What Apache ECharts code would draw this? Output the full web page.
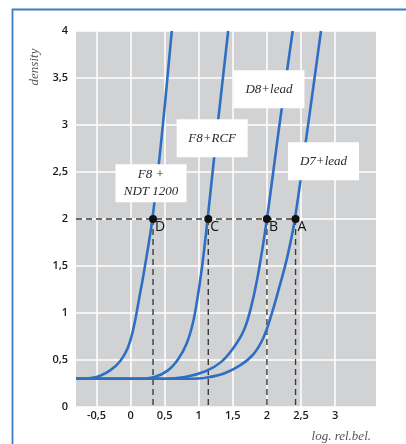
<!DOCTYPE html>
<html>
<head>
<meta charset="utf-8">
<script src="https://cdn.jsdelivr.net/npm/echarts@6/dist/echarts.min.js"></script>
<style>html,body{margin:0;padding:0;background:#fff;}#c{width:406px;height:444px;}</style>
</head>
<body>
<div id="c"></div>
<script>
// ---- data ----
var xTicks = [-0.5, 0, 0.5, 1, 1.5, 2, 2.5, 3];
var yTicks = [0, 0.5, 1, 1.5, 2, 2.5, 3, 3.5, 4];

var curve1X = [-0.8, -0.5, -0.3, -0.15, -0.04, 0.05, 0.125, 0.2, 0.32, 0.46, 0.605];
var curve1Y = [0.30, 0.32, 0.39, 0.49, 0.63, 0.86, 1.15, 1.45, 2.0, 2.9, 4.0];

var curve2X = [-0.8, 0.1, 0.35, 0.55, 0.7, 0.82, 0.91, 0.98, 1.05, 1.13, 1.27, 1.432];
var curve2Y = [0.30, 0.30, 0.32, 0.39, 0.51, 0.67, 0.88, 1.15, 1.5, 2.0, 2.95, 4.0];

var curve3X = [-0.8, 0.4, 0.8, 1.1, 1.33, 1.52, 1.67, 1.78, 1.88, 2.0, 2.18, 2.378];
var curve3Y = [0.30, 0.30, 0.32, 0.38, 0.48, 0.64, 0.83, 1.1, 1.45, 2.0, 2.98, 4.0];

var curve4X = [-0.8, 0.9, 1.3, 1.6, 1.8, 1.95, 2.07, 2.18, 2.3, 2.41, 2.6, 2.793];
var curve4Y = [0.30, 0.30, 0.34, 0.44, 0.56, 0.74, 0.99, 1.27, 1.6, 2.0, 2.98, 4.0];

var pointNames = ['D', 'C', 'B', 'A'];
var pointX = [0.33, 1.14, 2.0, 2.42];
var pointY = [2, 2, 2, 2];

var labelTexts = ['F8 +\nNDT 1200', 'F8+RCF', 'D8+lead', 'D7+lead'];
var labelX = [0.30, 1.197, 2.03, 2.83];
var labelY = [2.38, 2.86, 3.38, 2.615];

var xMin = -0.8, xMax = 3.6;
// ----------------

function zip(xs, ys) { return xs.map(function (x, i) { return [x, ys[i]]; }); }
function fmt(v) { return String(v).replace('.', ','); }

var blue = '#2f6fc1';
var curveStyle = { color: blue, width: 2.6 };
function curve(name, xs, ys) {
  return {
    name: name, type: 'line', data: zip(xs, ys), showSymbol: false, symbol: 'none',
    smooth: 0.4, lineStyle: curveStyle, z: 3, silent: true
  };
}
var dashStyle = { color: '#3a3a3a', width: 1.4, type: [6, 4] };

var series = [
  curve('F8 + NDT 1200', curve1X, curve1Y),
  curve('F8+RCF', curve2X, curve2Y),
  curve('D8+lead', curve3X, curve3Y),
  curve('D7+lead', curve4X, curve4Y),
  {
    type: 'line', data: [[xMin, pointY[0]], [pointX[3], pointY[3]]], symbol: 'none',
    lineStyle: dashStyle, z: 2, silent: true
  }
];
pointX.forEach(function (x, i) {
  series.push({
    type: 'line', data: [[x, pointY[i]], [x, 0]], symbol: 'none',
    lineStyle: dashStyle, z: 2, silent: true
  });
});
series.push({
  type: 'scatter', symbol: 'circle', symbolSize: 8, z: 6, silent: true,
  itemStyle: { color: '#111', opacity: 1 },
  data: pointX.map(function (x, i) { return { value: [x, pointY[i]], name: pointNames[i] }; }),
  label: {
    show: true, formatter: '{b}', position: [6, 5], align: 'left', verticalAlign: 'top',
    fontFamily: 'Open Sans', fontSize: 14, color: '#111'
  }
});
series.push({
  type: 'scatter', symbol: 'rect', symbolSize: 1, z: 10, silent: true,
  itemStyle: { color: 'rgba(0,0,0,0)', opacity: 1 },
  data: labelX.map(function (x, i) {
    var two = labelTexts[i].indexOf('\n') >= 0;
    return {
      value: [x, labelY[i]], name: labelTexts[i],
      label: two ? { lineHeight: 17, padding: [2, 0, 2, 0] } : { lineHeight: 38, padding: 0 }
    };
  }),
  label: {
    show: true, formatter: '{b}', position: 'inside', align: 'center', verticalAlign: 'middle',
    width: 71, backgroundColor: '#ffffff',
    fontFamily: 'Liberation Serif', fontStyle: 'italic', fontSize: 13, color: '#2a2a2a'
  }
});

var chart = echarts.init(document.getElementById('c'), null, { renderer: 'canvas' });
chart.setOption({
  animation: false,
  backgroundColor: '#ffffff',
  grid: {
    left: 76, right: 30, top: 31, bottom: 37, show: true,
    backgroundColor: '#d1d2d4', borderWidth: 0
  },
  xAxis: {
    type: 'value', min: xMin, max: xMax,
    axisLine: { show: false },
    axisTick: { show: false, customValues: xTicks },
    axisLabel: {
      customValues: xTicks, formatter: fmt, margin: 3,
      fontFamily: 'Open Sans', fontWeight: 600, fontSize: 11, color: '#1a1a1a'
    },
    splitLine: { show: true, lineStyle: { color: '#ffffff', width: 1.5 } }
  },
  yAxis: {
    type: 'value', min: yTicks[0], max: yTicks[yTicks.length - 1], interval: 0.5,
    axisLine: { show: false }, axisTick: { show: false },
    axisLabel: {
      formatter: fmt, margin: 8, padding: [0, 0, 7, 0],
      fontFamily: 'Open Sans', fontWeight: 600, fontSize: 11, color: '#1a1a1a'
    },
    splitLine: { show: true, lineStyle: { color: '#ffffff', width: 1.5 } }
  },
  graphic: [
    { type: 'polyline', shape: { points: [[12.5, 444], [12.5, 9.5], [406, 9.5]] },
      style: { stroke: '#3f7cc6', lineWidth: 1.8, fill: null }, silent: true },
    { type: 'text', x: 35, y: 67, rotation: Math.PI / 2,
      style: { text: 'density', fontFamily: 'Liberation Serif', fontStyle: 'italic', fontSize: 13,
               fill: '#555', align: 'center', verticalAlign: 'middle' } },
    { type: 'text', x: 371, y: 437,
      style: { text: 'log. rel.bel.', fontFamily: 'Liberation Serif', fontStyle: 'italic', fontSize: 13,
               fill: '#555', align: 'right', verticalAlign: 'middle' } }
  ],
  series: series
});
</script>
</body>
</html>
